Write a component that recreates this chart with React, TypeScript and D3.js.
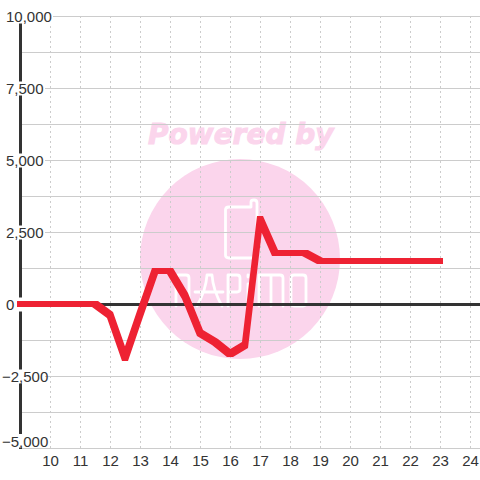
import React from "react";
import * as d3 from "d3";

const xVals = [9, 11.5, 12, 12.5, 13, 13.5, 14, 14.5, 15, 15.5, 16, 16.5, 17, 17.5, 18, 18.5, 19, 19.5, 20, 20.5, 21, 21.5, 22, 22.5, 23];
const yVals = [0, 0, -375, -1875, -350, 1150, 1150, 300, -1000, -1300, -1725, -1400, 2950, 1775, 1775, 1775, 1500, 1500, 1500, 1500, 1500, 1500, 1500, 1500, 1500];
const xTicks = [10, 11, 12, 13, 14, 15, 16, 17, 18, 19, 20, 21, 22, 23, 24];
const yLabelled = [10000, 7500, 5000, 2500, 0, -2500, -5000];
const yGrid = [10000, 8750, 7500, 6250, 5000, 3750, 2500, 1250, 0, -1250, -2500, -3750, -5000];

const x = d3.scaleLinear().domain([9, 24]).range([20.5, 470.5]);
const y = d3.scaleLinear().domain([-5000, 10000]).range([448.5, 16.5]);
const fmt = d3.format(",");
const font = '"Liberation Sans", Arial, sans-serif';
const brush = 3;

// The original line is swept with a square pen: each segment is the hull of two squares.
function segmentPath(i: number): string {
  const corners: [number, number][] = [];
  for (const k of [i, i + 1]) {
    const px = Math.floor(x(xVals[k]));
    const py = Math.round(y(yVals[k]) - 0.1);
    for (const dx of [-brush, brush]) {
      for (const dy of [-brush, brush]) {
        corners.push([px + dx, py + dy]);
      }
    }
  }
  const hull = d3.polygonHull(corners) ?? [];
  return d3.line()(hull) + "Z";
}

export default function App() {
  return (
    <svg width={480} height={480} style={{ position: "fixed", left: 0, top: 0, background: "#fff" }}>
      <circle cx={240} cy={259} r={100} fill="#fbd5ec" />
      <text x={148} y={144} fontFamily='"DejaVu Sans"' fontWeight="bold" fontStyle="italic" fontSize={28} fill="#fbd5ec" stroke="#fbd5ec" strokeWidth={1}>Powered by</text>
      <g fill="none" stroke="#fff" strokeWidth={2.8} strokeLinejoin="round" strokeLinecap="round">
        <path d="M229 207 H251 V202 Q251 200 254 200 Q257 200 257 203 V255 Q257 258 254 258 H229 Q225.5 258 225.5 255 V210 Q225.5 207 229 207 Z" />
        <path d="M176 306 V278 Q176 275 179 275 H186 Q189 275 189 278 V306" />
        <path d="M197 306 Q206 290 207 275 H212 Q213 290 222 306 M195 292 H223" />
        <path d="M228 306 V275 H237 Q240 275 240 278 V289 Q240 292 237 292 H228" />
        <path d="M248 275 V277 M248 284 V306" />
        <path d="M259 306 V275 H280 Q283 275 283 278 V306 M271 275 V306" />
        <path d="M294 275 H303 Q306 275 306 278 V303 Q306 306 303 306 H294 Q291 306 291 303 V278 Q291 275 294 275 Z" />
      </g>
      {yGrid.filter((d) => d !== 0).map((d) => (
        <line key={d} x1={20} x2={480} y1={y(d)} y2={y(d)} stroke="#cccccc" strokeWidth={1} />
      ))}
      {xTicks.map((d) => (
        <line key={d} x1={x(d)} x2={x(d)} y1={16} y2={449} stroke="#cccccc" strokeWidth={1} strokeDasharray="2 3" />
      ))}
      <line x1={20.5} x2={20.5} y1={16} y2={449} stroke="#333333" strokeWidth={3} />
      <line x1={20} x2={480} y1={y(0)} y2={y(0)} stroke="#333333" strokeWidth={3} />
      {yLabelled.map((d) => {
        const cy = Math.min(y(d), 441);
        return (
          <g key={d}>
            <rect x={0} y={cy - 7} width={d === 10000 ? 53 : 45} height={d === -5000 ? 13.5 : 14} fill="#fff" />
            <text x={d < 0 ? 2 : 6} y={cy + 5.5} fontFamily={font} fontSize={15} fill="#333333">{fmt(d)}</text>
          </g>
        );
      })}
      <path d={xVals.slice(1).map((_, i) => segmentPath(i)).join(" ")} fill="#ee2233" />
      {xTicks.map((d) => (
        <text key={d} x={x(d)} y={466} textAnchor="middle" fontFamily={font} fontSize={15} fill="#333333">{d}</text>
      ))}
    </svg>
  );
}
